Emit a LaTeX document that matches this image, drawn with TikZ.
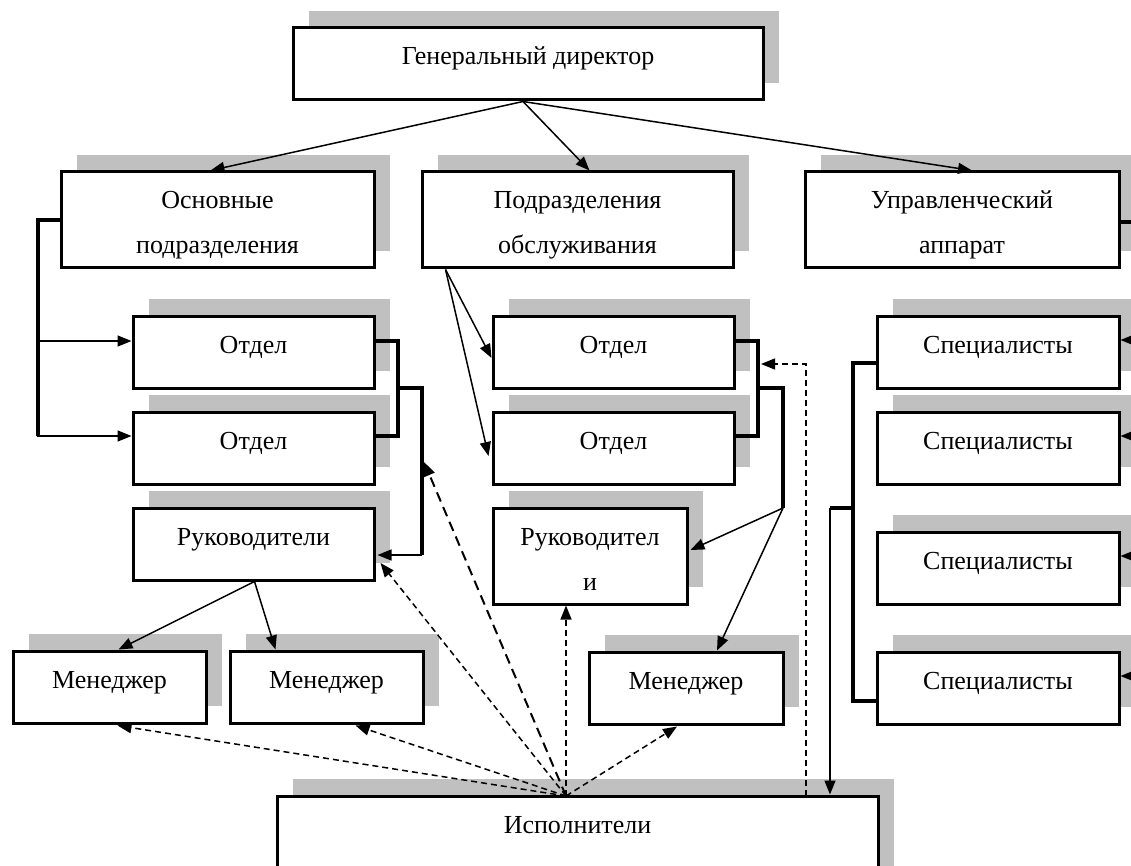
\documentclass[tikz,border=0pt]{standalone}
\usepackage{fontspec}
\setmainfont{Liberation Serif}
\usepackage{xcolor}
\usetikzlibrary{calc, shadows, arrows.meta}
\definecolor{seryj}{RGB}{192,192,192}

\begin{document}
\begin{tikzpicture}[>={Triangle[length=14pt,width=11pt]}, x=1pt, y=-1pt,
    font=\fontsize{26}{45}\selectfont,
    blok/.style={draw, line width=3pt, fill=white, inner sep=0pt,
        minimum width=241pt, minimum height=72pt, text height=17pt, text depth=15pt,
        drop shadow={shadow xshift=16pt, shadow yshift=17pt, fill=seryj, opacity=1}},
    blokdva/.style={blok, align=center, minimum height=96pt, text height=73pt, text depth=5pt},
    svyaz/.style={line width=1.5pt},
    skoba/.style={line width=3.5pt},
    punktir/.style={line width=1.5pt, dash pattern=on 6pt off 4pt},
    punktirdl/.style={line width=2pt, dash pattern=on 10pt off 6pt}]
    \useasboundingbox (0,0) rectangle (1131,866);

    % Верхний уровень
    \node[blok, minimum width=470pt] (gd) at (528,64) {Генеральный директор};
    \node[blokdva, minimum width=313pt] (osn) at (217.5,220) {Основные\\подразделения};
    \node[blokdva, minimum width=311pt] (obs) at (577.5,220) {Подразделения\\обслуживания};
    \node[blokdva, minimum width=314pt] (upr) at (962,220) {Управленческий\\аппарат};

    % Отделы и руководители
    \node[blok] (otdA) at (253.5,352) {Отдел};
    \node[blok] (otdB) at (253.5,448) {Отдел};
    \node[blok] (rukA) at (253.5,544) {Руководители};
    \node[blok] (otdC) at (613.5,352) {Отдел};
    \node[blok] (otdD) at (613.5,448) {Отдел};
    \node[blokdva, minimum width=194pt] (rukB) at (590,556) {Руководител\\и};

    % Специалисты
    \node[blok, minimum width=242pt] (spA) at (998,352) {Специалисты};
    \node[blok, minimum width=242pt] (spB) at (998,448) {Специалисты};
    \node[blok, minimum width=242pt] (spC) at (998,568) {Специалисты};
    \node[blok, minimum width=242pt] (spD) at (998,688) {Специалисты};

    % Менеджеры и исполнители
    \node[blok, minimum width=193pt] (manA) at (109.5,687) {Менеджер};
    \node[blok, minimum width=193pt] (manB) at (326.5,687) {Менеджер};
    \node[blok, minimum width=194pt] (manC) at (686,688) {Менеджер};
    \node[blok, minimum width=601pt, minimum height=100pt, text depth=43pt] (isp) at (577.5,846) {Исполнители};

    % От директора
    \draw[svyaz, ->] ($(gd.south)+(-5,0)$) -- ($(osn.north)+(-7,0)$);
    \draw[svyaz, ->] ($(gd.south)+(-5,0)$) -- ($(obs.north)+(12,0)$);
    \draw[svyaz, ->] ($(gd.south)+(-5,0)$) -- ($(upr.north)+(10,0)$);

    % Основные подразделения
    \coordinate (osnL) at (38,220);
    \draw[skoba] (osn.west) -- (osnL) -- (38,436);
    \draw[svyaz, ->] ($(otdA.west)+(-95,-11)$) -- ($(otdA.west)+(0,-11)$);
    \draw[svyaz, ->] ($(otdB.west)+(-95,-12)$) -- ($(otdB.west)+(0,-12)$);
    \coordinate (brL) at (398,388);
    \coordinate (brL2) at (422,555);
    \draw[skoba] ($(otdA.east)+(0,-11)$) -| (brL) |- ($(otdB.east)+(0,-12)$);
    \draw[skoba] (brL) -| (brL2);
    \draw[svyaz, ->] (brL2) -- ($(rukA.east)+(2,11)$);
    \draw[svyaz, ->] ($(rukA.south)+(1,0)$) -- ($(manA.north)+(9,0)$);
    \draw[svyaz, ->] ($(rukA.south)+(1,0)$) -- ($(manB.north)+(-51,0)$);

    % Подразделения обслуживания
    \draw[svyaz, ->] ($(obs.south west)+(25,0)$) -- ($(otdC.west)+(0,6)$);
    \draw[svyaz, ->] ($(obs.south west)+(25,0)$) -- ($(otdD.west)+(-3,8)$);
    \coordinate (brM) at (758,388);
    \coordinate (brM2) at (783,508);
    \draw[skoba] ($(otdC.east)+(0,-11)$) -| (brM) |- ($(otdD.east)+(0,-12)$);
    \draw[skoba] (brM) -| (brM2);
    \draw[svyaz, ->] (brM2) -- ($(rukB.east)+(2,-6)$);
    \draw[svyaz, ->] (brM2) -- ($(manC.north)+(31,0)$);

    % Управленческий аппарат
    \coordinate (brR) at (1145,222);
    \draw[skoba] ($(upr.east)+(0,2)$) -- (brR) -- (1145,690);
    \foreach \s in {spA,spB,spC,spD}
        \draw[svyaz, ->] ($(\s.east)+(26,-12)$) -- ($(\s.east)+(0,-12)$);
    \coordinate (brS) at (853,508);
    \coordinate (brS2) at (830,508);
    \draw[skoba] ($(spA.west)+(0,11)$) -| (brS) |- ($(spD.west)+(0,13)$);
    \draw[skoba] (brS) -- (brS2);
    \draw[svyaz, ->] (brS2) -- (brS2 |- isp.north);

    % Обратные связи от исполнителей
    \coordinate (ispO) at (566,796);
    \coordinate (ispR) at (806,796);
    \draw[punktir, ->] (ispO) -- ($(manA.south)+(8,1)$);
    \draw[punktir, ->] (ispO) -- ($(manB.south)+(29,1)$);
    \draw[punktir, ->] (ispO) -- ($(rukA.east)+(5,19)$);
    \draw[punktirdl, ->] (ispO) -- (424,462);
    \draw[punktir, ->] (ispO) -- (ispO |- rukB.south);
    \draw[punktir, ->] (ispO) -- ($(manC.south)+(-9,1)$);
    \draw[punktir, ->] (ispR) |- (761,364);
\end{tikzpicture}
\end{document}
